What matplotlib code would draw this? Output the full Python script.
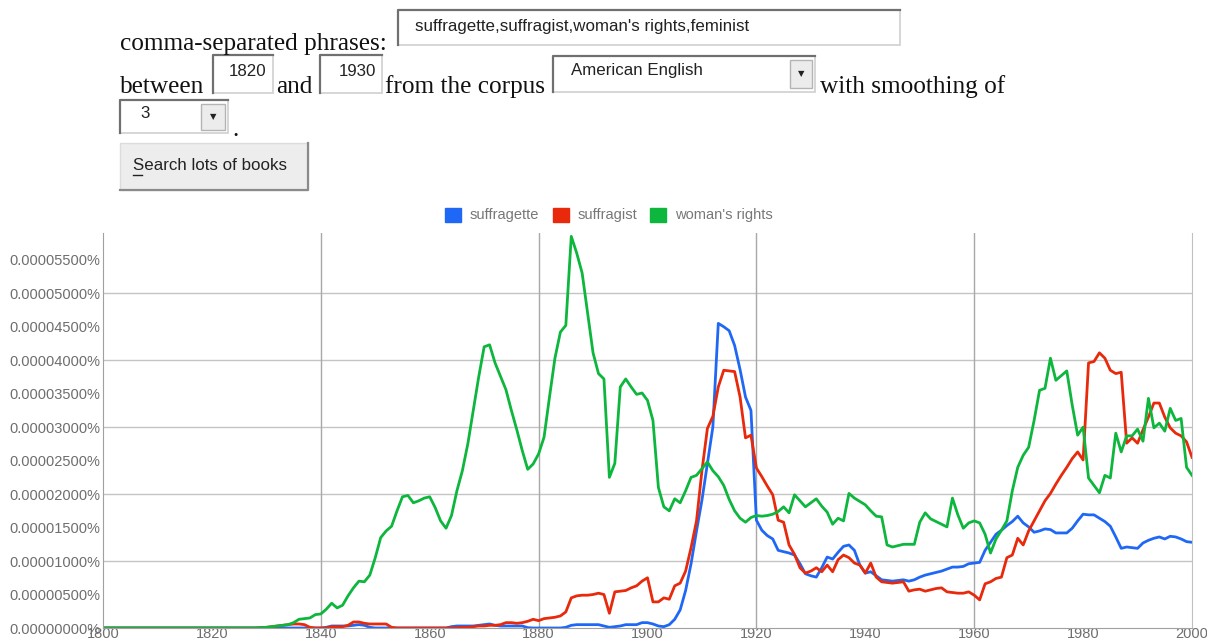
import numpy as np
import matplotlib
matplotlib.use("Agg")
import matplotlib.pyplot as plt
from matplotlib.patches import Rectangle, Patch
from matplotlib.lines import Line2D
from matplotlib.ticker import FuncFormatter

plt.rcParams['font.family'] = ['Liberation Sans', 'DejaVu Sans']

# Google Ngram form values
phrases = "suffragette,suffragist,woman's rights,feminist"
year_start = "1820"
year_end = "1930"
corpus = "American English"
smoothing = "3"

# yearly frequencies, in units of 0.000001 %
years = np.arange(1800, 2001)
labels = ["suffragette", "suffragist", "woman's rights"]
colors = ["#1f68f5", "#e8290b", "#0db63d"]

suffragette = [
    0, 0, 0, 0, 0, 0, 0, 0, 0, 0,
    0, 0, 0, 0, 0, 0, 0, 0, 0, 0,
    0, 0, 0, 0, 0, 0, 0, 0, 0, 0,
    0, 0, 0, 0, 0, 0, 0, 0, 0, 0,
    0, 0.1, 0.3, 0.3, 0.3, 0.3, 0.4, 0.5, 0.4, 0.1,
    0, 0, 0, 0, 0, 0, 0, 0, 0, 0,
    0, 0, 0, 0, 0.2, 0.3, 0.3, 0.3, 0.3, 0.4,
    0.5, 0.6, 0.4, 0.3, 0.3, 0.3, 0.3, 0.3, 0.05, 0,
    0, 0, 0, 0, 0, 0.1, 0.4, 0.5, 0.5, 0.5,
    0.5, 0.5, 0.3, 0.1, 0.2, 0.3, 0.5, 0.5, 0.5, 0.8,
    0.8, 0.6, 0.3, 0.2, 0.5, 1.3, 2.7, 5.6, 9.6, 14.5,
    19.1, 24.6, 30.0, 45.5, 45.0, 44.4, 42.2, 38.6, 34.5, 32.5,
    16.1, 14.6, 13.8, 13.3, 11.6, 11.4, 11.2, 10.9, 9.6, 8.1,
    7.8, 7.6, 9.0, 10.6, 10.3, 11.3, 12.2, 12.4, 11.6, 9.4,
    8.2, 8.4, 7.8, 7.2, 7.1, 7.0, 7.1, 7.2, 7.0, 7.2,
    7.6, 7.9, 8.1, 8.3, 8.5, 8.8, 9.1, 9.1, 9.2, 9.6,
    9.7, 9.8, 11.6, 12.8, 14.0, 14.6, 15.3, 15.9, 16.7, 15.7,
    15.1, 14.3, 14.5, 14.8, 14.7, 14.2, 14.2, 14.2, 14.9, 16.0,
    17.0, 16.9, 16.9, 16.4, 15.9, 15.2, 13.6, 11.9, 12.1, 12.0,
    11.9, 12.7, 13.1, 13.4, 13.6, 13.3, 13.7, 13.6, 13.3, 12.9,
    12.8,
]

suffragist = [
    0, 0, 0, 0, 0, 0, 0, 0, 0, 0,
    0, 0, 0, 0, 0, 0, 0, 0, 0, 0,
    0, 0, 0, 0, 0, 0, 0, 0, 0, 0.05,
    0.1, 0.2, 0.3, 0.4, 0.5, 0.6, 0.6, 0.5, 0.1, 0,
    0, 0, 0.2, 0.2, 0.2, 0.4, 0.9, 0.9, 0.7, 0.6,
    0.6, 0.6, 0.6, 0.1, 0, 0, 0, 0, 0, 0,
    0, 0, 0, 0, 0, 0.05, 0.1, 0.1, 0.2, 0.3,
    0.3, 0.4, 0.4, 0.5, 0.8, 0.8, 0.7, 0.8, 1.0, 1.3,
    1.1, 1.4, 1.5, 1.6, 1.8, 2.4, 4.5, 4.8, 4.9, 4.9,
    5.0, 5.2, 5.0, 2.2, 5.4, 5.5, 5.6, 6.0, 6.3, 7.0,
    7.5, 3.9, 3.9, 4.5, 4.3, 6.3, 6.7, 8.5, 12.0, 16.0,
    23.5, 29.8, 31.6, 36.0, 38.5, 38.4, 38.3, 34.5, 28.4, 28.8,
    23.9, 22.6, 21.2, 19.9, 16.1, 15.8, 12.4, 11.0, 9.0, 8.2,
    8.5, 9.0, 8.4, 9.4, 8.4, 10.2, 10.9, 10.5, 9.7, 9.4,
    8.2, 9.7, 7.6, 6.9, 6.8, 6.7, 6.8, 6.9, 5.5, 5.7,
    5.8, 5.5, 5.7, 5.9, 6.0, 5.4, 5.3, 5.2, 5.2, 5.4,
    4.9, 4.2, 6.6, 6.9, 7.4, 7.6, 10.5, 10.9, 13.4, 12.4,
    14.5, 16.0, 17.5, 19.0, 20.1, 21.5, 22.8, 24.0, 25.3, 26.3,
    25.1, 39.6, 39.8, 41.1, 40.3, 38.5, 38.0, 38.2, 27.6, 28.4,
    27.6, 29.6, 31.5, 33.6, 33.6, 31.5, 29.9, 29.1, 28.7, 27.8,
    25.5,
]

womans_rights = [
    0, 0, 0, 0, 0, 0, 0, 0, 0, 0,
    0, 0, 0, 0, 0, 0, 0, 0, 0, 0,
    0, 0, 0, 0, 0, 0, 0, 0, 0, 0.05,
    0.1, 0.2, 0.3, 0.4, 0.5, 0.8, 1.3, 1.4, 1.5, 2.0,
    2.1, 2.8, 3.7, 3.0, 3.4, 4.8, 6.0, 7.0, 6.9, 7.9,
    10.5, 13.5, 14.5, 15.2, 17.5, 19.6, 19.8, 18.7, 19.0, 19.4,
    19.6, 18.0, 16.0, 14.9, 16.8, 20.5, 23.5, 27.5, 32.5, 37.5,
    42.0, 42.3, 39.6, 37.6, 35.6, 32.5, 29.6, 26.5, 23.7, 24.5,
    26.0, 28.5, 34.5, 40.3, 44.2, 45.2, 58.5, 56.0, 53.0, 47.0,
    41.1, 38.0, 37.2, 22.5, 24.6, 36.0, 37.2, 36.0, 34.9, 35.1,
    34.0, 31.0, 21.0, 18.1, 17.5, 19.3, 18.7, 20.5, 22.5, 22.8,
    23.8, 24.8, 23.5, 22.6, 21.3, 19.2, 17.5, 16.4, 15.8, 16.5,
    16.8, 16.7, 16.8, 17.0, 17.4, 18.1, 17.2, 19.9, 19.0, 18.1,
    18.7, 19.3, 18.2, 17.3, 15.5, 16.4, 16.0, 20.1, 19.4, 18.9,
    18.4, 17.5, 16.7, 16.6, 12.4, 12.1, 12.3, 12.5, 12.5, 12.5,
    15.8, 17.2, 16.3, 15.9, 15.5, 15.1, 19.4, 16.9, 14.9, 15.7,
    16.0, 15.7, 14.0, 11.2, 13.3, 14.6, 16.0, 20.5, 24.0, 25.8,
    27.0, 31.0, 35.5, 35.8, 40.3, 37.0, 37.7, 38.4, 33.3, 28.8,
    30.0, 22.4, 21.3, 20.2, 22.8, 22.4, 29.1, 26.3, 28.7, 28.7,
    29.7, 27.9, 34.3, 29.9, 30.6, 29.4, 32.8, 31.0, 31.3, 24.0,
    22.8,
]

series = [suffragette, suffragist, womans_rights]

W, H = 1207, 643
fig = plt.figure(figsize=(W / 100, H / 100), dpi=100)


def fx(x):
    return x / W


def fy(y):
    return 1 - y / H


def field(x0, y0, x1, y1, face="white"):
    # sunken form field
    fig.add_artist(Rectangle((fx(x0), fy(y1)), fx(x1) - fx(x0), fy(y0) - fy(y1),
                             transform=fig.transFigure, facecolor=face,
                             edgecolor="#cfcfcf", lw=1.2))
    fig.add_artist(Line2D([fx(x0), fx(x0), fx(x1)], [fy(y1), fy(y0), fy(y0)],
                          transform=fig.transFigure, color="#707070", lw=1.6))


def arrow_button(x0, y0, x1, y1):
    fig.add_artist(Rectangle((fx(x0), fy(y1)), fx(x1) - fx(x0), fy(y0) - fy(y1),
                             transform=fig.transFigure, facecolor="#ececec",
                             edgecolor="#b4b4b4", lw=1))
    fig.text(fx((x0 + x1) / 2), fy((y0 + y1) / 2), "\u25bc", fontsize=6,
             ha="center", va="center", color="#222", family="DejaVu Sans")


serif = dict(family=["Liberation Serif", "DejaVu Serif"], fontsize=18.2, color="#111")
small = dict(fontsize=12.2, color="#222")

# row 1
fig.text(fx(120), fy(50), "comma-separated phrases:", va="baseline", **serif)
field(398, 10, 900, 45)
fig.text(fx(415), fy(26), phrases, va="center", **small)

# row 2
fig.text(fx(120), fy(93), "between", va="baseline", **serif)
field(213, 55, 273, 93)
fig.text(fx(266), fy(71), year_start, va="center", ha="right", **small)
fig.text(fx(276), fy(93), "and", va="baseline", **serif)
field(320, 55, 382, 93)
fig.text(fx(376), fy(71), year_end, va="center", ha="right", **small)
fig.text(fx(385), fy(93), "from the corpus", va="baseline", **serif)
field(553, 56, 815, 92)
arrow_button(790, 60, 812, 88)
fig.text(fx(571), fy(70), corpus, va="center", **small)
fig.text(fx(820), fy(93), "with smoothing of", va="baseline", **serif)

# row 3
field(120, 100, 228, 133)
arrow_button(201, 104, 225, 130)
fig.text(fx(140), fy(114), smoothing, va="center", **small)
fig.text(fx(232), fy(136), ".", va="baseline", **serif)

# search button
fig.add_artist(Rectangle((fx(120), fy(190)), fx(308) - fx(120), fy(143) - fy(190),
                         transform=fig.transFigure, facecolor="#ededed",
                         edgecolor="#dcdcdc", lw=1))
fig.add_artist(Line2D([fx(120), fx(308), fx(308)], [fy(190), fy(190), fy(143)],
                      transform=fig.transFigure, color="#8a8a8a", lw=1.6))
fig.text(fx(133), fy(165), "Search lots of books", va="center", ha="left", **small)
fig.add_artist(Line2D([fx(133), fx(142)], [fy(175), fy(175)],
                      transform=fig.transFigure, color="#222", lw=1))

# chart
ax = fig.add_axes([fx(103), fy(628), fx(1192) - fx(103), fy(233) - fy(628)])
for vals, lab, col in zip(series, labels, colors):
    ax.plot(years, vals, color=col, lw=2.0, label=lab, solid_joinstyle="round")

ax.set_xlim(1800, 2000)
ax.set_ylim(0, 59)
ax.set_xticks(np.arange(1800, 2001, 20))
ax.set_yticks(np.arange(0, 56, 5))
ax.yaxis.set_major_formatter(FuncFormatter(lambda v, p: f"{v * 1e-6:.8f}%"))
ax.tick_params(length=0, labelsize=10.5, labelcolor="#6e6e6e")
ax.tick_params(axis="y", pad=2)
ax.tick_params(axis="x", pad=-1)

for g in range(10, 51, 10):
    ax.axhline(g, color="#c4c4c4", lw=1, zorder=0)
for g in range(1840, 1961, 40):
    ax.axvline(g, color="#a8a8a8", lw=1, zorder=0)

ax.spines["top"].set_visible(False)
ax.spines["left"].set_color("#a0a0a0")
ax.spines["bottom"].set_color("#a0a0a0")
ax.spines["right"].set_color("#c0c0c0")

handles = [Patch(facecolor=c, edgecolor=c, label=l) for c, l in zip(colors, labels)]
fig.legend(handles=handles, loc="center", bbox_to_anchor=(fx(609), fy(215)),
           ncol=3, frameon=False, fontsize=10.5, labelcolor="#777",
           handlelength=1.1, handleheight=1.1, handletextpad=0.6,
           columnspacing=0.9)

fig.savefig("out.png", dpi=100)
